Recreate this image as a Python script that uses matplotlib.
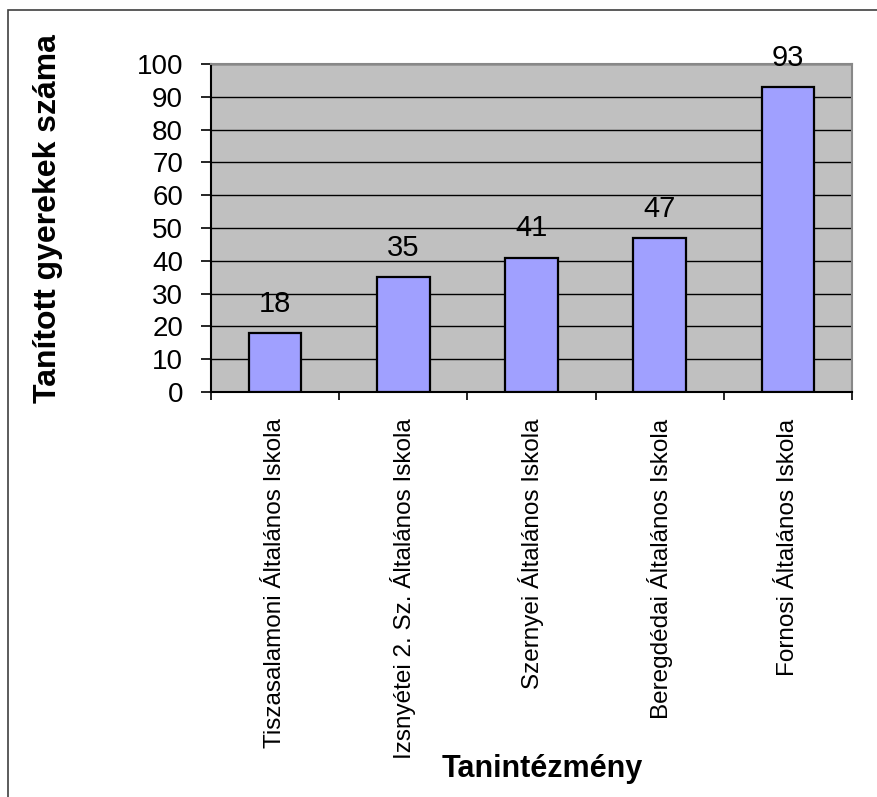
import matplotlib.pyplot as plt
from matplotlib.patches import Rectangle

schools = ['Tiszasalamoni Általános Iskola', 'Izsnyétei 2. Sz. Általános Iskola',
           'Szernyei Általános Iskola', 'Beregdédai Általános Iskola',
           'Fornosi Általános Iskola']
counts = [18, 35, 41, 47, 93]
yticks = list(range(0, 101, 10))

plt.rcParams['font.family'] = ['Liberation Sans', 'DejaVu Sans']

fig = plt.figure(figsize=(8.77, 7.97), dpi=100)
ax = fig.add_axes([211/877, 1-392/797, (852-211)/877, (392-64)/797])
ax.set_facecolor('#c0c0c0')

xs = list(range(len(schools)))
ax.bar(xs, counts, width=0.41, color='#a0a0ff', edgecolor='black', linewidth=1.6, zorder=3)
for x, v in zip(xs, counts):
    ax.annotate(str(v), (x, v), xytext=(0, 11), textcoords='offset points',
                ha='center', va='bottom', fontsize=21)

ax.set_xlim(-0.5, len(schools) - 0.5)
ax.set_ylim(0, 100)
ax.set_yticks(yticks)
ax.yaxis.grid(True, color='black', linewidth=1.0, zorder=1)
ax.set_axisbelow(True)
ax.tick_params(axis='y', direction='out', length=7, width=1.2, labelsize=20, pad=13)

ax.set_xticks(xs)
ax.set_xticklabels(schools, rotation=90, va='top', ha='center', fontsize=17.5)
ax.set_xticks([i - 0.5 for i in range(len(schools) + 1)], minor=True)
ax.tick_params(axis='x', which='major', length=0, pad=19)
ax.tick_params(axis='x', which='minor', direction='out', length=6, width=1.2)

for s in ['left', 'bottom']:
    ax.spines[s].set_color('black')
    ax.spines[s].set_linewidth(1.5)
for s in ['top', 'right']:
    ax.spines[s].set_color('#888888')
    ax.spines[s].set_linewidth(1.5)

fig.text(48/877, 1-219/797, 'Tanított gyerekek száma', rotation=90,
         ha='center', va='center', fontsize=23, fontweight='bold')
fig.text(542/877, 1-777/797, 'Tanintézmény', ha='center', va='baseline',
         fontsize=22, fontweight='bold')

fig.patches.append(Rectangle((8/877, -0.1), 1.2, 1.1 - 10/797, transform=fig.transFigure,
                             fill=False, edgecolor='#404040', linewidth=1.2))

fig.savefig('out.png', dpi=100)
